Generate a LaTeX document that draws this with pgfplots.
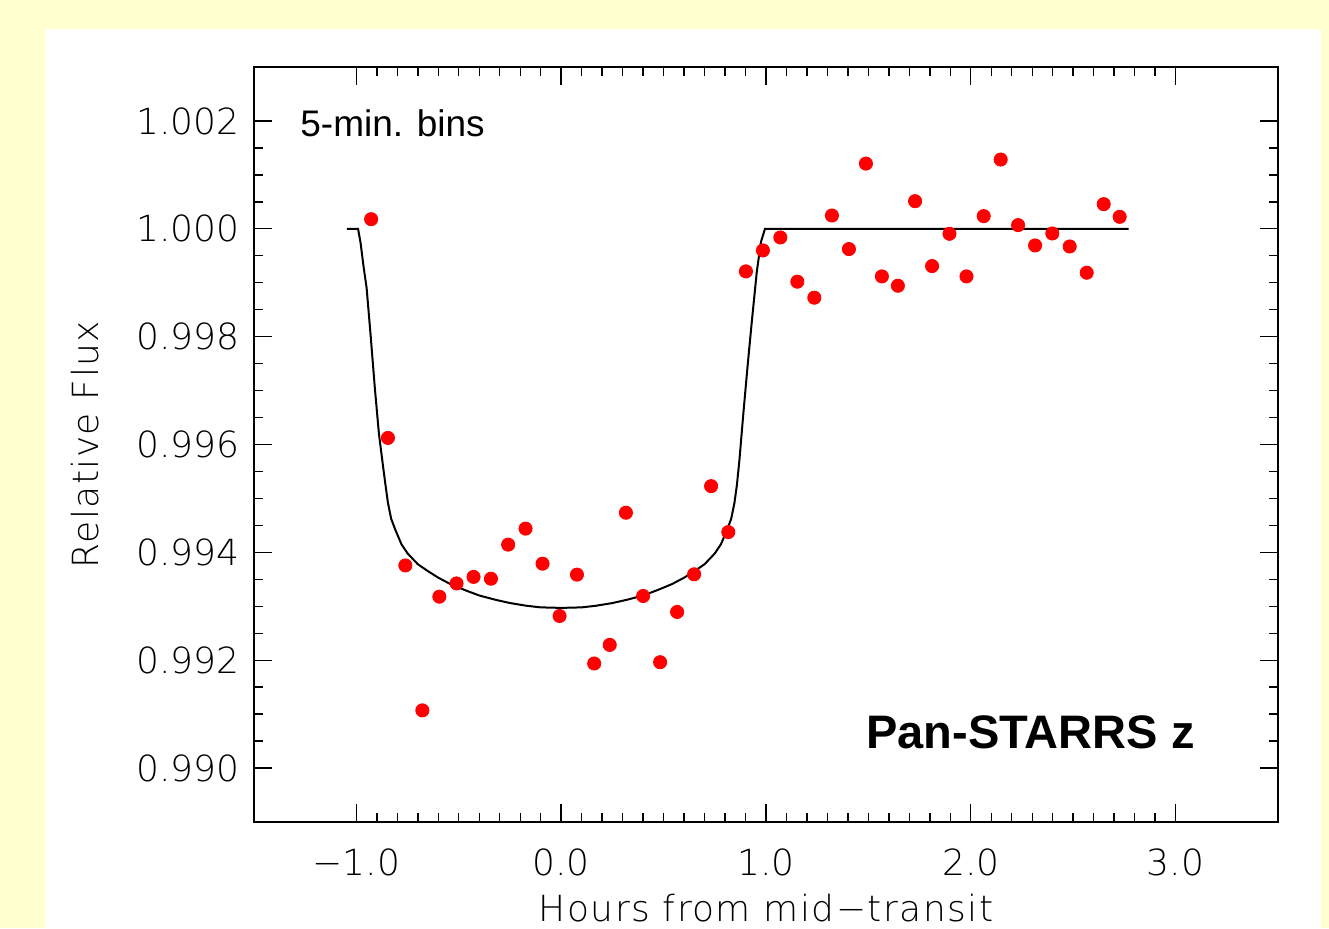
\documentclass[border=0pt]{standalone}
\usepackage{fontspec}
\setmainfont{Liberation Sans}
\newfontfamily\idl{DejaVu Sans ExtraLight}
\newfontfamily\idlw[LetterSpace=4]{DejaVu Sans ExtraLight}
\usepackage{pgfplots}
\pgfplotsset{compat=1.18}
\definecolor{bgyellow}{RGB}{255,255,208}

\begin{document}
\begin{tikzpicture}
\useasboundingbox (-127pt,-53pt) rectangle (537.5pt,411pt);
\fill[bgyellow] (-127pt,-53pt) rectangle (537.5pt,411pt);
\fill[white] (-104pt,-53pt) rectangle (533.5pt,396.5pt);
\begin{axis}[
    at={(0pt,0pt)}, anchor=south west,
    scale only axis, width=512pt, height=377.5pt,
    xmin=-1.5, xmax=3.5, ymin=0.989, ymax=1.003,
    xtick={-1,0,1,2,3},
    xticklabels={−1.0,0.0,1.0,2.0,3.0},
    minor x tick num=9,
    ytick={0.990,0.992,0.994,0.996,0.998,1.000,1.002},
    yticklabels={0.990,0.992,0.994,0.996,0.998,1.000,1.002},
    minor y tick num=3,
    tick align=inside, xtick pos=both, ytick pos=both,
    major tick length=9pt, minor tick length=4.5pt,
    tick style={black, line width=0.7pt},
    axis line style={black, line width=0.8pt},
    ticklabel style={font=\idl\fontsize{18}{18}\selectfont, inner sep=0pt},
    xticklabel style={yshift=-13pt},
    yticklabel style={xshift=-7pt},
    xlabel={Hours from mid−transit},
    ylabel={Relative Flux},
    label style={font=\idlw\fontsize{18}{18}\selectfont, inner sep=0pt},
    xlabel style={at={(axis description cs:0.5,0)}, anchor=center, yshift=-43pt},
    ylabel style={at={(axis description cs:-0.165,0.5)}, anchor=center},
]
% transit model
\addplot[black, line width=1pt] coordinates {
(-1.046,1.00000) (-0.992,1.00000) (-0.980,0.99975) (-0.965,0.99930)
(-0.950,0.99890) (-0.930,0.99800) (-0.910,0.99705) (-0.890,0.99620)
(-0.870,0.99560) (-0.858,0.99525) (-0.846,0.99492) (-0.830,0.99462)
(-0.810,0.99442) (-0.780,0.99415) (-0.750,0.99398) (-0.700,0.99378)
(-0.650,0.99365) (-0.600,0.99353) (-0.540,0.99341) (-0.470,0.99330)
(-0.400,0.99320) (-0.320,0.99312) (-0.250,0.99306) (-0.170,0.99301)
(-0.100,0.99298) (0.000,0.99297) (0.100,0.99298) (0.170,0.99301)
(0.250,0.99306) (0.320,0.99312) (0.400,0.99320) (0.470,0.99330)
(0.540,0.99341) (0.600,0.99353) (0.650,0.99365) (0.700,0.99378)
(0.750,0.99398) (0.780,0.99415) (0.810,0.99442) (0.830,0.99462)
(0.846,0.99492) (0.858,0.99525) (0.870,0.99570) (0.890,0.99660)
(0.910,0.99745) (0.930,0.99825) (0.955,0.99920) (0.975,0.99975)
(0.995,1.00000) (2.771,1.00000)
};
% 5-min bins
\addplot[only marks, mark=*, mark size=3.3pt, draw=red, fill=red] coordinates {
(-0.928,1.000178) (-0.846,0.996122) (-0.761,0.993757) (-0.678,0.991070)
(-0.595,0.993178) (-0.511,0.993424) (-0.428,0.993545) (-0.343,0.993511)
(-0.259,0.994143) (-0.174,0.994440) (-0.091,0.993790) (-0.008,0.992820)
(0.077,0.993587) (0.161,0.991939) (0.237,0.992284) (0.316,0.994735)
(0.400,0.993191) (0.483,0.991963) (0.566,0.992895) (0.649,0.993593)
(0.732,0.995228) (0.816,0.994376) (0.902,0.999210) (0.985,0.999599)
(1.070,0.999839) (1.153,0.999019) (1.236,0.998722) (1.322,1.000246)
(1.405,0.999624) (1.488,1.001209) (1.566,0.999117) (1.644,0.998944)
(1.728,1.000512) (1.811,0.999309) (1.896,0.999907) (1.979,0.999117)
(2.063,1.000235) (2.146,1.001284) (2.231,1.000068) (2.314,0.999691)
(2.398,0.999913) (2.483,0.999672) (2.566,0.999185) (2.649,1.000457)
(2.727,1.000222)
};
\node[anchor=base west, inner sep=0pt, font=\fontsize{18.5}{20}\selectfont]
    at (rel axis cs:0.0449,0.9073) {5-min. bins};
\node[anchor=base west, inner sep=0pt, font=\bfseries\fontsize{23.5}{26}\selectfont]
    at (rel axis cs:0.5977,0.0967) {Pan-STARRS z};
\end{axis}
\end{tikzpicture}
\end{document}
